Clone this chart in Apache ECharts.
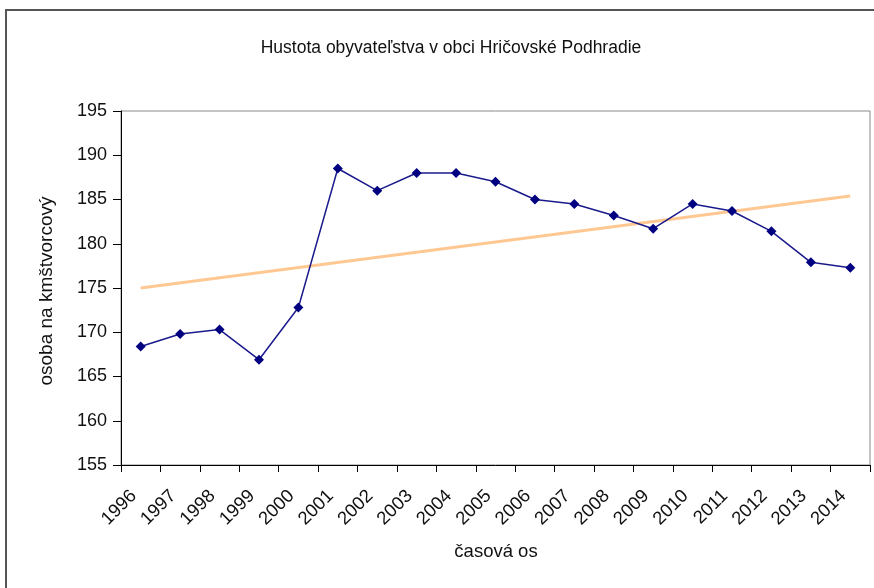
<!DOCTYPE html>
<html>
<head>
<meta charset="utf-8">
<script src="https://cdn.jsdelivr.net/npm/echarts@6/dist/echarts.min.js"></script>
<style>html,body{margin:0;padding:0;background:#fff}#c{width:874px;height:588px}</style>
</head>
<body>
<div id="c"></div>
<script>
const years = ['1996','1997','1998','1999','2000','2001','2002','2003','2004','2005','2006','2007','2008','2009','2010','2011','2012','2013','2014'];
const density = [168.4,169.8,170.3,166.9,172.8,188.5,186.0,188.0,188.0,187.0,185.0,184.5,183.2,181.7,184.5,183.7,181.4,177.9,177.3];
const trend = [175.0,'-','-','-','-','-','-','-','-','-','-','-','-','-','-','-','-','-',185.4];
const yTicks = {min:155, max:195, interval:5};
const titleText = 'Hustota obyvateľstva v obci Hričovské Podhradie';
const xName = 'časová os';
const yName = 'osoba na kmštvorcový';

const FONT = '"Liberation Sans", Arial, sans-serif';
const chart = echarts.init(document.getElementById('c'), null, {renderer:'canvas'});
chart.setOption({
  animation:false,
  backgroundColor:'#fff',
  title:{text:titleText, left:446, top:34, textAlign:'center',
    textStyle:{fontFamily:FONT, fontSize:17.5, fontWeight:'normal', color:'#111'}},
  graphic:[
    {type:'rect', shape:{x:6,y:10,width:900,height:700}, style:{fill:'none', stroke:'#555', lineWidth:2}, silent:true},
    {type:'text', x:496, y:552, style:{text:xName, font:'18.5px '+FONT, fill:'#111', align:'center', verticalAlign:'middle'}},
    {type:'text', x:47, y:291, rotation:Math.PI/2, style:{text:yName, font:'19px '+FONT, fill:'#111', align:'center', verticalAlign:'middle'}}
  ],
  grid:{left:121, right:4, top:111, bottom:123, show:true, borderColor:'#888', borderWidth:1},
  xAxis:{type:'category', data:years, boundaryGap:true,
    axisLine:{lineStyle:{color:'#000', width:1}},
    axisTick:{show:true, length:7, lineStyle:{color:'#000'}},
    axisLabel:{rotate:45, fontFamily:FONT, fontSize:18.5, color:'#111', margin:21, interval:0, padding:[0,10,0,0]},
    splitLine:{show:false}},
  yAxis:{type:'value', min:yTicks.min, max:yTicks.max, interval:yTicks.interval,
    axisLine:{show:true, lineStyle:{color:'#000', width:1}},
    axisTick:{show:true, length:8, lineStyle:{color:'#000'}},
    axisLabel:{fontFamily:FONT, fontSize:18, color:'#111', margin:14},
    splitLine:{show:false}},
  series:[
    {type:'line', data:trend, connectNulls:true, symbol:'none', z:2,
      lineStyle:{color:'#ffc892', width:3}},
    {type:'line', data:density, symbol:'diamond', symbolSize:10, z:3,
      lineStyle:{color:'#1a1a8c', width:1.5}, itemStyle:{color:'#000080'}}
  ]
});
</script>
</body>
</html>
